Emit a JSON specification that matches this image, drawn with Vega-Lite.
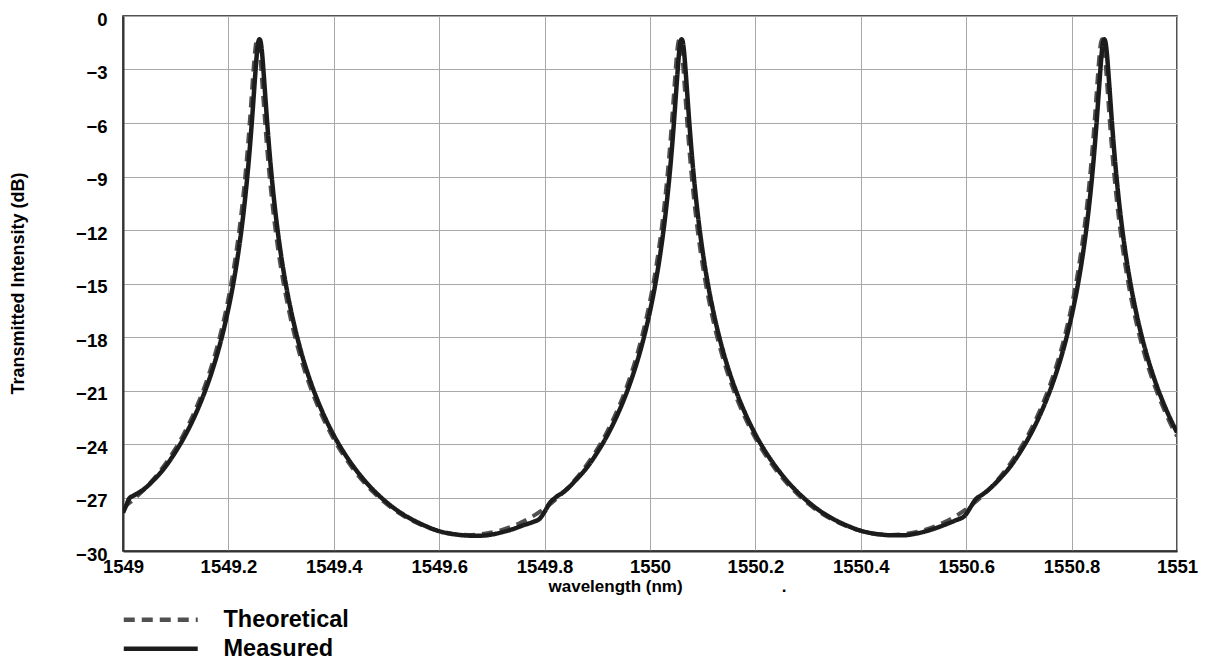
{
  "$schema": "https://vega.github.io/schema/vega-lite/v6.json",
  "width": 1054,
  "height": 535,
  "autosize": {"type": "none"},
  "padding": {"left": 123, "top": 16, "right": 29, "bottom": 113},
  "background": "white",
  "config": {
    "font": "Liberation Sans",
    "view": {"stroke": "#1a1a1a", "strokeWidth": 1.5},
    "axis": {
      "labelFont": "Liberation Sans", "labelFontWeight": "bold", "labelFontSize": 18.5, "labelColor": "#000",
      "titleFont": "Liberation Sans", "titleFontWeight": "bold", "titleColor": "#000", "titleFontSize": 17,
      "gridColor": "#a8a8a8", "gridOpacity": 1, "gridWidth": 1, "tickSize": 0,
      "domainColor": "#333", "domainWidth": 2
    },
    "legend": {
      "orient": "none", "legendX": 26, "legendY": 592, "title": null,
      "symbolType": "M-4,0H4", "symbolSize": 342, "symbolStrokeWidth": 4.5,
      "labelFont": "Liberation Sans", "labelFontWeight": "bold", "labelFontSize": 23.5, "labelColor": "#000",
      "labelOffset": 51, "rowPadding": 4
    }
  },
  "datasets": {
    "curves": [
      {"s": "Theoretical", "x": 1549.0, "y": -27.58},
      {"s": "Theoretical", "x": 1549.015, "y": -27.24},
      {"s": "Theoretical", "x": 1549.035, "y": -26.70},
      {"s": "Theoretical", "x": 1549.055, "y": -26.07},
      {"s": "Theoretical", "x": 1549.075, "y": -25.33},
      {"s": "Theoretical", "x": 1549.095, "y": -24.47},
      {"s": "Theoretical", "x": 1549.115, "y": -23.46},
      {"s": "Theoretical", "x": 1549.135, "y": -22.24},
      {"s": "Theoretical", "x": 1549.155, "y": -20.77},
      {"s": "Theoretical", "x": 1549.165, "y": -19.91},
      {"s": "Theoretical", "x": 1549.175, "y": -18.94},
      {"s": "Theoretical", "x": 1549.185, "y": -17.83},
      {"s": "Theoretical", "x": 1549.195, "y": -16.55},
      {"s": "Theoretical", "x": 1549.205, "y": -15.05},
      {"s": "Theoretical", "x": 1549.215, "y": -13.23},
      {"s": "Theoretical", "x": 1549.225, "y": -10.95},
      {"s": "Theoretical", "x": 1549.23, "y": -9.57},
      {"s": "Theoretical", "x": 1549.235, "y": -7.98},
      {"s": "Theoretical", "x": 1549.24, "y": -6.14},
      {"s": "Theoretical", "x": 1549.245, "y": -4.08},
      {"s": "Theoretical", "x": 1549.2475, "y": -3.05},
      {"s": "Theoretical", "x": 1549.25, "y": -2.12},
      {"s": "Theoretical", "x": 1549.2525, "y": -1.5},
      {"s": "Theoretical", "x": 1549.255, "y": -1.3},
      {"s": "Theoretical", "x": 1549.2575, "y": -1.5},
      {"s": "Theoretical", "x": 1549.26, "y": -2.12},
      {"s": "Theoretical", "x": 1549.2625, "y": -3.05},
      {"s": "Theoretical", "x": 1549.265, "y": -4.08},
      {"s": "Theoretical", "x": 1549.27, "y": -6.14},
      {"s": "Theoretical", "x": 1549.275, "y": -7.98},
      {"s": "Theoretical", "x": 1549.28, "y": -9.57},
      {"s": "Theoretical", "x": 1549.285, "y": -10.95},
      {"s": "Theoretical", "x": 1549.295, "y": -13.23},
      {"s": "Theoretical", "x": 1549.305, "y": -15.05},
      {"s": "Theoretical", "x": 1549.315, "y": -16.55},
      {"s": "Theoretical", "x": 1549.325, "y": -17.83},
      {"s": "Theoretical", "x": 1549.335, "y": -18.94},
      {"s": "Theoretical", "x": 1549.345, "y": -19.91},
      {"s": "Theoretical", "x": 1549.355, "y": -20.77},
      {"s": "Theoretical", "x": 1549.375, "y": -22.24},
      {"s": "Theoretical", "x": 1549.395, "y": -23.46},
      {"s": "Theoretical", "x": 1549.415, "y": -24.47},
      {"s": "Theoretical", "x": 1549.435, "y": -25.33},
      {"s": "Theoretical", "x": 1549.455, "y": -26.07},
      {"s": "Theoretical", "x": 1549.475, "y": -26.70},
      {"s": "Theoretical", "x": 1549.495, "y": -27.24},
      {"s": "Theoretical", "x": 1549.515, "y": -27.70},
      {"s": "Theoretical", "x": 1549.535, "y": -28.08},
      {"s": "Theoretical", "x": 1549.555, "y": -28.39},
      {"s": "Theoretical", "x": 1549.575, "y": -28.65},
      {"s": "Theoretical", "x": 1549.595, "y": -28.84},
      {"s": "Theoretical", "x": 1549.615, "y": -28.98},
      {"s": "Theoretical", "x": 1549.635, "y": -29.07},
      {"s": "Theoretical", "x": 1549.655, "y": -29.10},
      {"s": "Theoretical", "x": 1549.676, "y": -29.07},
      {"s": "Theoretical", "x": 1549.696, "y": -28.98},
      {"s": "Theoretical", "x": 1549.716, "y": -28.84},
      {"s": "Theoretical", "x": 1549.736, "y": -28.65},
      {"s": "Theoretical", "x": 1549.756, "y": -28.39},
      {"s": "Theoretical", "x": 1549.776, "y": -28.08},
      {"s": "Theoretical", "x": 1549.796, "y": -27.70},
      {"s": "Theoretical", "x": 1549.816, "y": -27.24},
      {"s": "Theoretical", "x": 1549.836, "y": -26.70},
      {"s": "Theoretical", "x": 1549.856, "y": -26.07},
      {"s": "Theoretical", "x": 1549.876, "y": -25.33},
      {"s": "Theoretical", "x": 1549.896, "y": -24.47},
      {"s": "Theoretical", "x": 1549.916, "y": -23.46},
      {"s": "Theoretical", "x": 1549.936, "y": -22.24},
      {"s": "Theoretical", "x": 1549.956, "y": -20.77},
      {"s": "Theoretical", "x": 1549.966, "y": -19.91},
      {"s": "Theoretical", "x": 1549.976, "y": -18.94},
      {"s": "Theoretical", "x": 1549.986, "y": -17.83},
      {"s": "Theoretical", "x": 1549.996, "y": -16.55},
      {"s": "Theoretical", "x": 1550.006, "y": -15.05},
      {"s": "Theoretical", "x": 1550.016, "y": -13.23},
      {"s": "Theoretical", "x": 1550.026, "y": -10.95},
      {"s": "Theoretical", "x": 1550.031, "y": -9.57},
      {"s": "Theoretical", "x": 1550.036, "y": -7.98},
      {"s": "Theoretical", "x": 1550.041, "y": -6.14},
      {"s": "Theoretical", "x": 1550.046, "y": -4.08},
      {"s": "Theoretical", "x": 1550.0485, "y": -3.05},
      {"s": "Theoretical", "x": 1550.051, "y": -2.12},
      {"s": "Theoretical", "x": 1550.0535, "y": -1.5},
      {"s": "Theoretical", "x": 1550.056, "y": -1.3},
      {"s": "Theoretical", "x": 1550.0585, "y": -1.5},
      {"s": "Theoretical", "x": 1550.061, "y": -2.12},
      {"s": "Theoretical", "x": 1550.0635, "y": -3.05},
      {"s": "Theoretical", "x": 1550.066, "y": -4.08},
      {"s": "Theoretical", "x": 1550.071, "y": -6.14},
      {"s": "Theoretical", "x": 1550.076, "y": -7.98},
      {"s": "Theoretical", "x": 1550.081, "y": -9.57},
      {"s": "Theoretical", "x": 1550.086, "y": -10.95},
      {"s": "Theoretical", "x": 1550.096, "y": -13.23},
      {"s": "Theoretical", "x": 1550.106, "y": -15.05},
      {"s": "Theoretical", "x": 1550.116, "y": -16.55},
      {"s": "Theoretical", "x": 1550.126, "y": -17.83},
      {"s": "Theoretical", "x": 1550.136, "y": -18.94},
      {"s": "Theoretical", "x": 1550.146, "y": -19.91},
      {"s": "Theoretical", "x": 1550.156, "y": -20.77},
      {"s": "Theoretical", "x": 1550.176, "y": -22.24},
      {"s": "Theoretical", "x": 1550.196, "y": -23.46},
      {"s": "Theoretical", "x": 1550.216, "y": -24.47},
      {"s": "Theoretical", "x": 1550.236, "y": -25.33},
      {"s": "Theoretical", "x": 1550.256, "y": -26.07},
      {"s": "Theoretical", "x": 1550.276, "y": -26.70},
      {"s": "Theoretical", "x": 1550.296, "y": -27.24},
      {"s": "Theoretical", "x": 1550.316, "y": -27.70},
      {"s": "Theoretical", "x": 1550.336, "y": -28.08},
      {"s": "Theoretical", "x": 1550.356, "y": -28.39},
      {"s": "Theoretical", "x": 1550.376, "y": -28.65},
      {"s": "Theoretical", "x": 1550.396, "y": -28.84},
      {"s": "Theoretical", "x": 1550.416, "y": -28.98},
      {"s": "Theoretical", "x": 1550.436, "y": -29.07},
      {"s": "Theoretical", "x": 1550.457, "y": -29.10},
      {"s": "Theoretical", "x": 1550.478, "y": -29.07},
      {"s": "Theoretical", "x": 1550.498, "y": -28.98},
      {"s": "Theoretical", "x": 1550.518, "y": -28.84},
      {"s": "Theoretical", "x": 1550.538, "y": -28.65},
      {"s": "Theoretical", "x": 1550.558, "y": -28.39},
      {"s": "Theoretical", "x": 1550.578, "y": -28.08},
      {"s": "Theoretical", "x": 1550.598, "y": -27.70},
      {"s": "Theoretical", "x": 1550.618, "y": -27.24},
      {"s": "Theoretical", "x": 1550.638, "y": -26.70},
      {"s": "Theoretical", "x": 1550.658, "y": -26.07},
      {"s": "Theoretical", "x": 1550.678, "y": -25.33},
      {"s": "Theoretical", "x": 1550.698, "y": -24.47},
      {"s": "Theoretical", "x": 1550.718, "y": -23.46},
      {"s": "Theoretical", "x": 1550.738, "y": -22.24},
      {"s": "Theoretical", "x": 1550.758, "y": -20.77},
      {"s": "Theoretical", "x": 1550.768, "y": -19.91},
      {"s": "Theoretical", "x": 1550.778, "y": -18.94},
      {"s": "Theoretical", "x": 1550.788, "y": -17.83},
      {"s": "Theoretical", "x": 1550.798, "y": -16.55},
      {"s": "Theoretical", "x": 1550.808, "y": -15.05},
      {"s": "Theoretical", "x": 1550.818, "y": -13.23},
      {"s": "Theoretical", "x": 1550.828, "y": -10.95},
      {"s": "Theoretical", "x": 1550.833, "y": -9.57},
      {"s": "Theoretical", "x": 1550.838, "y": -7.98},
      {"s": "Theoretical", "x": 1550.843, "y": -6.14},
      {"s": "Theoretical", "x": 1550.848, "y": -4.08},
      {"s": "Theoretical", "x": 1550.8505, "y": -3.05},
      {"s": "Theoretical", "x": 1550.853, "y": -2.12},
      {"s": "Theoretical", "x": 1550.8555, "y": -1.5},
      {"s": "Theoretical", "x": 1550.858, "y": -1.3},
      {"s": "Theoretical", "x": 1550.8605, "y": -1.5},
      {"s": "Theoretical", "x": 1550.863, "y": -2.12},
      {"s": "Theoretical", "x": 1550.8655, "y": -3.05},
      {"s": "Theoretical", "x": 1550.868, "y": -4.08},
      {"s": "Theoretical", "x": 1550.873, "y": -6.14},
      {"s": "Theoretical", "x": 1550.878, "y": -7.98},
      {"s": "Theoretical", "x": 1550.883, "y": -9.57},
      {"s": "Theoretical", "x": 1550.888, "y": -10.95},
      {"s": "Theoretical", "x": 1550.898, "y": -13.23},
      {"s": "Theoretical", "x": 1550.908, "y": -15.05},
      {"s": "Theoretical", "x": 1550.918, "y": -16.55},
      {"s": "Theoretical", "x": 1550.928, "y": -17.83},
      {"s": "Theoretical", "x": 1550.938, "y": -18.94},
      {"s": "Theoretical", "x": 1550.948, "y": -19.91},
      {"s": "Theoretical", "x": 1550.958, "y": -20.77},
      {"s": "Theoretical", "x": 1550.978, "y": -22.24},
      {"s": "Theoretical", "x": 1550.998, "y": -23.46},
      {"s": "Theoretical", "x": 1551.0, "y": -23.56},

      {"s": "Measured", "x": 1549.0, "y": -27.85},
      {"s": "Measured", "x": 1549.006, "y": -27.45},
      {"s": "Measured", "x": 1549.012, "y": -27.05},
      {"s": "Measured", "x": 1549.02, "y": -26.9},
      {"s": "Measured", "x": 1549.039, "y": -26.55},
      {"s": "Measured", "x": 1549.059, "y": -26.0},
      {"s": "Measured", "x": 1549.079, "y": -25.33},
      {"s": "Measured", "x": 1549.099, "y": -24.47},
      {"s": "Measured", "x": 1549.119, "y": -23.46},
      {"s": "Measured", "x": 1549.139, "y": -22.24},
      {"s": "Measured", "x": 1549.159, "y": -20.77},
      {"s": "Measured", "x": 1549.169, "y": -19.91},
      {"s": "Measured", "x": 1549.179, "y": -18.94},
      {"s": "Measured", "x": 1549.189, "y": -17.83},
      {"s": "Measured", "x": 1549.199, "y": -16.55},
      {"s": "Measured", "x": 1549.209, "y": -15.05},
      {"s": "Measured", "x": 1549.219, "y": -13.23},
      {"s": "Measured", "x": 1549.229, "y": -10.95},
      {"s": "Measured", "x": 1549.234, "y": -9.57},
      {"s": "Measured", "x": 1549.239, "y": -7.98},
      {"s": "Measured", "x": 1549.244, "y": -6.14},
      {"s": "Measured", "x": 1549.249, "y": -4.08},
      {"s": "Measured", "x": 1549.2515, "y": -3.05},
      {"s": "Measured", "x": 1549.254, "y": -2.12},
      {"s": "Measured", "x": 1549.2565, "y": -1.5},
      {"s": "Measured", "x": 1549.259, "y": -1.3},
      {"s": "Measured", "x": 1549.2615, "y": -1.5},
      {"s": "Measured", "x": 1549.264, "y": -2.12},
      {"s": "Measured", "x": 1549.2665, "y": -3.05},
      {"s": "Measured", "x": 1549.269, "y": -4.08},
      {"s": "Measured", "x": 1549.274, "y": -6.14},
      {"s": "Measured", "x": 1549.279, "y": -7.98},
      {"s": "Measured", "x": 1549.284, "y": -9.57},
      {"s": "Measured", "x": 1549.289, "y": -10.95},
      {"s": "Measured", "x": 1549.299, "y": -13.23},
      {"s": "Measured", "x": 1549.309, "y": -15.05},
      {"s": "Measured", "x": 1549.319, "y": -16.55},
      {"s": "Measured", "x": 1549.329, "y": -17.83},
      {"s": "Measured", "x": 1549.339, "y": -18.94},
      {"s": "Measured", "x": 1549.349, "y": -19.91},
      {"s": "Measured", "x": 1549.359, "y": -20.77},
      {"s": "Measured", "x": 1549.379, "y": -22.24},
      {"s": "Measured", "x": 1549.399, "y": -23.46},
      {"s": "Measured", "x": 1549.419, "y": -24.47},
      {"s": "Measured", "x": 1549.439, "y": -25.33},
      {"s": "Measured", "x": 1549.459, "y": -26.07},
      {"s": "Measured", "x": 1549.479, "y": -26.70},
      {"s": "Measured", "x": 1549.499, "y": -27.24},
      {"s": "Measured", "x": 1549.519, "y": -27.70},
      {"s": "Measured", "x": 1549.539, "y": -28.08},
      {"s": "Measured", "x": 1549.559, "y": -28.39},
      {"s": "Measured", "x": 1549.579, "y": -28.66},
      {"s": "Measured", "x": 1549.599, "y": -28.88},
      {"s": "Measured", "x": 1549.619, "y": -29.02},
      {"s": "Measured", "x": 1549.639, "y": -29.10},
      {"s": "Measured", "x": 1549.659, "y": -29.14},
      {"s": "Measured", "x": 1549.679, "y": -29.14},
      {"s": "Measured", "x": 1549.699, "y": -29.08},
      {"s": "Measured", "x": 1549.719, "y": -28.95},
      {"s": "Measured", "x": 1549.739, "y": -28.78},
      {"s": "Measured", "x": 1549.759, "y": -28.56},
      {"s": "Measured", "x": 1549.779, "y": -28.36},
      {"s": "Measured", "x": 1549.791, "y": -28.18},
      {"s": "Measured", "x": 1549.8, "y": -27.8},
      {"s": "Measured", "x": 1549.81, "y": -27.3},
      {"s": "Measured", "x": 1549.82, "y": -27.02},
      {"s": "Measured", "x": 1549.84, "y": -26.6},
      {"s": "Measured", "x": 1549.86, "y": -26.0},
      {"s": "Measured", "x": 1549.88, "y": -25.33},
      {"s": "Measured", "x": 1549.90, "y": -24.47},
      {"s": "Measured", "x": 1549.92, "y": -23.46},
      {"s": "Measured", "x": 1549.94, "y": -22.24},
      {"s": "Measured", "x": 1549.96, "y": -20.77},
      {"s": "Measured", "x": 1549.97, "y": -19.91},
      {"s": "Measured", "x": 1549.98, "y": -18.94},
      {"s": "Measured", "x": 1549.99, "y": -17.83},
      {"s": "Measured", "x": 1550.0, "y": -16.55},
      {"s": "Measured", "x": 1550.01, "y": -15.05},
      {"s": "Measured", "x": 1550.02, "y": -13.23},
      {"s": "Measured", "x": 1550.03, "y": -10.95},
      {"s": "Measured", "x": 1550.035, "y": -9.57},
      {"s": "Measured", "x": 1550.04, "y": -7.98},
      {"s": "Measured", "x": 1550.045, "y": -6.14},
      {"s": "Measured", "x": 1550.05, "y": -4.08},
      {"s": "Measured", "x": 1550.0525, "y": -3.05},
      {"s": "Measured", "x": 1550.055, "y": -2.12},
      {"s": "Measured", "x": 1550.0575, "y": -1.5},
      {"s": "Measured", "x": 1550.06, "y": -1.3},
      {"s": "Measured", "x": 1550.0625, "y": -1.5},
      {"s": "Measured", "x": 1550.065, "y": -2.12},
      {"s": "Measured", "x": 1550.0675, "y": -3.05},
      {"s": "Measured", "x": 1550.07, "y": -4.08},
      {"s": "Measured", "x": 1550.075, "y": -6.14},
      {"s": "Measured", "x": 1550.08, "y": -7.98},
      {"s": "Measured", "x": 1550.085, "y": -9.57},
      {"s": "Measured", "x": 1550.09, "y": -10.95},
      {"s": "Measured", "x": 1550.10, "y": -13.23},
      {"s": "Measured", "x": 1550.11, "y": -15.05},
      {"s": "Measured", "x": 1550.12, "y": -16.55},
      {"s": "Measured", "x": 1550.13, "y": -17.83},
      {"s": "Measured", "x": 1550.14, "y": -18.94},
      {"s": "Measured", "x": 1550.15, "y": -19.91},
      {"s": "Measured", "x": 1550.16, "y": -20.77},
      {"s": "Measured", "x": 1550.18, "y": -22.24},
      {"s": "Measured", "x": 1550.20, "y": -23.46},
      {"s": "Measured", "x": 1550.22, "y": -24.47},
      {"s": "Measured", "x": 1550.24, "y": -25.33},
      {"s": "Measured", "x": 1550.26, "y": -26.07},
      {"s": "Measured", "x": 1550.28, "y": -26.70},
      {"s": "Measured", "x": 1550.30, "y": -27.24},
      {"s": "Measured", "x": 1550.32, "y": -27.70},
      {"s": "Measured", "x": 1550.34, "y": -28.08},
      {"s": "Measured", "x": 1550.36, "y": -28.39},
      {"s": "Measured", "x": 1550.38, "y": -28.65},
      {"s": "Measured", "x": 1550.40, "y": -28.86},
      {"s": "Measured", "x": 1550.42, "y": -29.0},
      {"s": "Measured", "x": 1550.44, "y": -29.08},
      {"s": "Measured", "x": 1550.46, "y": -29.12},
      {"s": "Measured", "x": 1550.48, "y": -29.12},
      {"s": "Measured", "x": 1550.50, "y": -29.05},
      {"s": "Measured", "x": 1550.52, "y": -28.92},
      {"s": "Measured", "x": 1550.54, "y": -28.74},
      {"s": "Measured", "x": 1550.56, "y": -28.52},
      {"s": "Measured", "x": 1550.58, "y": -28.28},
      {"s": "Measured", "x": 1550.598, "y": -28.0},
      {"s": "Measured", "x": 1550.608, "y": -27.55},
      {"s": "Measured", "x": 1550.618, "y": -27.1},
      {"s": "Measured", "x": 1550.63, "y": -26.85},
      {"s": "Measured", "x": 1550.645, "y": -26.5},
      {"s": "Measured", "x": 1550.662, "y": -26.0},
      {"s": "Measured", "x": 1550.682, "y": -25.33},
      {"s": "Measured", "x": 1550.702, "y": -24.47},
      {"s": "Measured", "x": 1550.722, "y": -23.46},
      {"s": "Measured", "x": 1550.742, "y": -22.24},
      {"s": "Measured", "x": 1550.762, "y": -20.77},
      {"s": "Measured", "x": 1550.772, "y": -19.91},
      {"s": "Measured", "x": 1550.782, "y": -18.94},
      {"s": "Measured", "x": 1550.792, "y": -17.83},
      {"s": "Measured", "x": 1550.802, "y": -16.55},
      {"s": "Measured", "x": 1550.812, "y": -15.05},
      {"s": "Measured", "x": 1550.822, "y": -13.23},
      {"s": "Measured", "x": 1550.832, "y": -10.95},
      {"s": "Measured", "x": 1550.837, "y": -9.57},
      {"s": "Measured", "x": 1550.842, "y": -7.98},
      {"s": "Measured", "x": 1550.847, "y": -6.14},
      {"s": "Measured", "x": 1550.852, "y": -4.08},
      {"s": "Measured", "x": 1550.8545, "y": -3.05},
      {"s": "Measured", "x": 1550.857, "y": -2.12},
      {"s": "Measured", "x": 1550.8595, "y": -1.5},
      {"s": "Measured", "x": 1550.862, "y": -1.3},
      {"s": "Measured", "x": 1550.8645, "y": -1.5},
      {"s": "Measured", "x": 1550.867, "y": -2.12},
      {"s": "Measured", "x": 1550.8695, "y": -3.05},
      {"s": "Measured", "x": 1550.872, "y": -4.08},
      {"s": "Measured", "x": 1550.877, "y": -6.14},
      {"s": "Measured", "x": 1550.882, "y": -7.98},
      {"s": "Measured", "x": 1550.887, "y": -9.57},
      {"s": "Measured", "x": 1550.892, "y": -10.95},
      {"s": "Measured", "x": 1550.902, "y": -13.23},
      {"s": "Measured", "x": 1550.912, "y": -15.05},
      {"s": "Measured", "x": 1550.922, "y": -16.55},
      {"s": "Measured", "x": 1550.932, "y": -17.83},
      {"s": "Measured", "x": 1550.942, "y": -18.94},
      {"s": "Measured", "x": 1550.952, "y": -19.91},
      {"s": "Measured", "x": 1550.962, "y": -20.77},
      {"s": "Measured", "x": 1550.982, "y": -22.24},
      {"s": "Measured", "x": 1551.0, "y": -23.35}
    ]
  },
  "data": {"name": "curves"},
  "encoding": {
    "x": {
      "field": "x", "type": "quantitative",
      "scale": {"domain": [1549, 1551], "nice": false, "zero": false},
      "axis": {
        "values": [1549, 1549.2, 1549.4, 1549.6, 1549.8, 1550, 1550.2, 1550.4, 1550.6, 1550.8, 1551],
        "format": "~g", "labelPadding": 6, "labelFlush": false,
        "title": "wavelength (nm)\u00a0\u00a0\u00a0\u00a0\u00a0\u00a0\u00a0\u00a0\u00a0\u00a0\u00a0\u00a0\u00a0\u00a0\u00a0\u00a0\u00a0\u00a0\u00a0\u00a0\u00a0.",
        "titleX": 425, "titleY": 40, "titleAlign": "left", "titleBaseline": "alphabetic", "titleAnchor": "start"
      }
    },
    "y": {
      "field": "y", "type": "quantitative",
      "scale": {"domain": [-30, 0], "nice": false, "zero": false},
      "axis": {
        "values": [-30, -27, -24, -21, -18, -15, -12, -9, -6, -3, 0],
        "labelPadding": 16, "labelOffset": 3, "labelFlush": false,
        "title": "Transmitted Intensity (dB)", "titleFontSize": 18,
        "titleX": -105, "titleY": 267, "titleAlign": "center", "titleBaseline": "middle", "titleAngle": -90
      }
    },
    "color": {
      "field": "s", "type": "nominal",
      "scale": {"domain": ["Theoretical", "Measured"], "range": ["#505050", "#1c1c1c"]},
      "legend": {"title": null, "symbolType": "M-4,0H4"}
    },
    "strokeDash": {
      "field": "s", "type": "nominal",
      "scale": {"domain": ["Theoretical", "Measured"], "range": [[11, 7], [1, 0]]},
      "legend": {"title": null, "symbolType": "M-4,0H4"}
    }
  },
  "layer": [
    {
      "transform": [{"filter": "datum.s === 'Theoretical'"}],
      "mark": {"type": "line", "interpolate": "monotone", "strokeWidth": 4, "clip": true}
    },
    {
      "transform": [{"filter": "datum.s === 'Measured'"}],
      "mark": {"type": "line", "interpolate": "monotone", "strokeWidth": 4.5, "clip": true}
    }
  ]
}
